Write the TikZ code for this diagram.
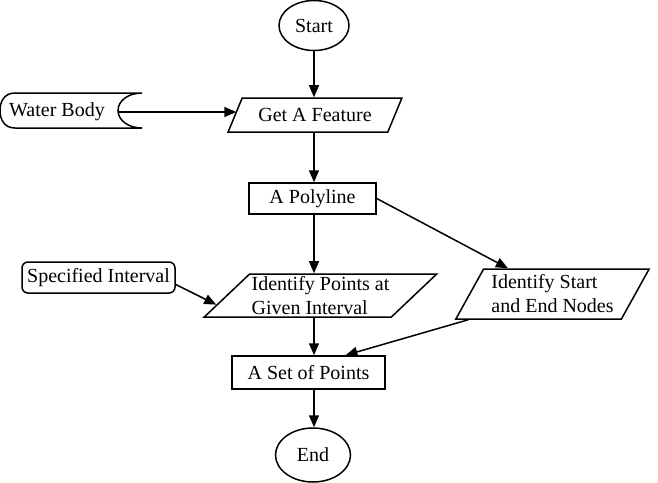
\documentclass[tikz,border=0pt]{standalone}
\usepackage{fontspec}
\setmainfont{Liberation Serif}
\usetikzlibrary{shapes.geometric, arrows.meta, positioning, calc}

\tikzset{
  flowline/.style={draw, line width=0.75pt},
  arrow/.style={flowline, -{Triangle[length=6pt,width=5pt]}},
  terminal/.style={draw, ellipse, line width=0.75pt, inner sep=0pt},
  process/.style={draw, rectangle, line width=0.75pt, inner sep=0pt},
  io/.style={draw, trapezium, trapezium stretches=true, line width=0.75pt, inner sep=1pt, align=left},
}

\begin{document}
\begin{tikzpicture}[x=0.5pt, y=-0.5pt]
    \useasboundingbox (0,0) rectangle (658,482);

    % terminals
    \node[terminal, minimum width=35pt, minimum height=25pt] (start) at (314,25.5) {Start};
    \node[terminal, minimum width=37.5pt, minimum height=27pt] (end) at (313,455) {End};

    % stored data
    \draw[flowline] (142,93) -- (15,93) .. controls (4,93) and (0,102) .. (0,110.5)
        .. controls (0,119) and (4,128) .. (15,128) -- (142,128)
        .. controls (128,128) and (118,120) .. (118,110.5)
        .. controls (118,101) and (128,93) .. (142,93);
    \node[inner sep=0pt] (water) at (57,111.5) {Water Body};
    \coordinate (waterout) at (119,112);

    % input / output
    \node[io, trapezium left angle=57, trapezium right angle=123,
          minimum width=87.5pt, minimum height=17pt] (feature) at (315,115) {Get A Feature};
    \node[io, trapezium left angle=43, trapezium right angle=137,
          minimum width=114.5pt, minimum height=21.5pt] (points) at (320.5,295.5)
          {\baselineskip=11.5pt Identify Points at\\Given Interval};
    \node[io, trapezium left angle=59, trapezium right angle=121,
          minimum width=97.5pt, minimum height=25pt] (startend) at (552.5,294)
          {\baselineskip=11.5pt Identify Start\\and End Nodes};

    % processes
    \node[process, minimum width=63.5pt, minimum height=15.5pt] (polyline) at (312.5,198.5) {A Polyline};
    \node[process, rounded corners=3pt, minimum width=76.5pt, minimum height=15.5pt] (spec) at (98.5,277.5) {Specified Interval};
    \node[process, minimum width=76.5pt, minimum height=16.5pt] (setpts) at (308.5,372.5) {A Set of Points};

    % connectors
    \draw[arrow] (start.south) -- (start.south |- feature.north);
    \draw[arrow] (waterout) -- ([xshift=1pt]feature.west |- waterout);
    \draw[arrow] (feature.south -| start) -- (polyline.north -| start);
    \draw[arrow] (polyline.south -| start) -- (points.north -| start);
    \draw[arrow] (polyline.east) -- (startend.150);
    \draw[arrow] ([yshift=-3.5pt]spec.east) -- (points.185);
    \draw[arrow] (points.south -| start) -- (setpts.north -| start);
    \draw[arrow] (startend.197) -- (setpts.25);
    \draw[arrow] (setpts.south -| start) -- (end.north -| start);
\end{tikzpicture}
\end{document}
